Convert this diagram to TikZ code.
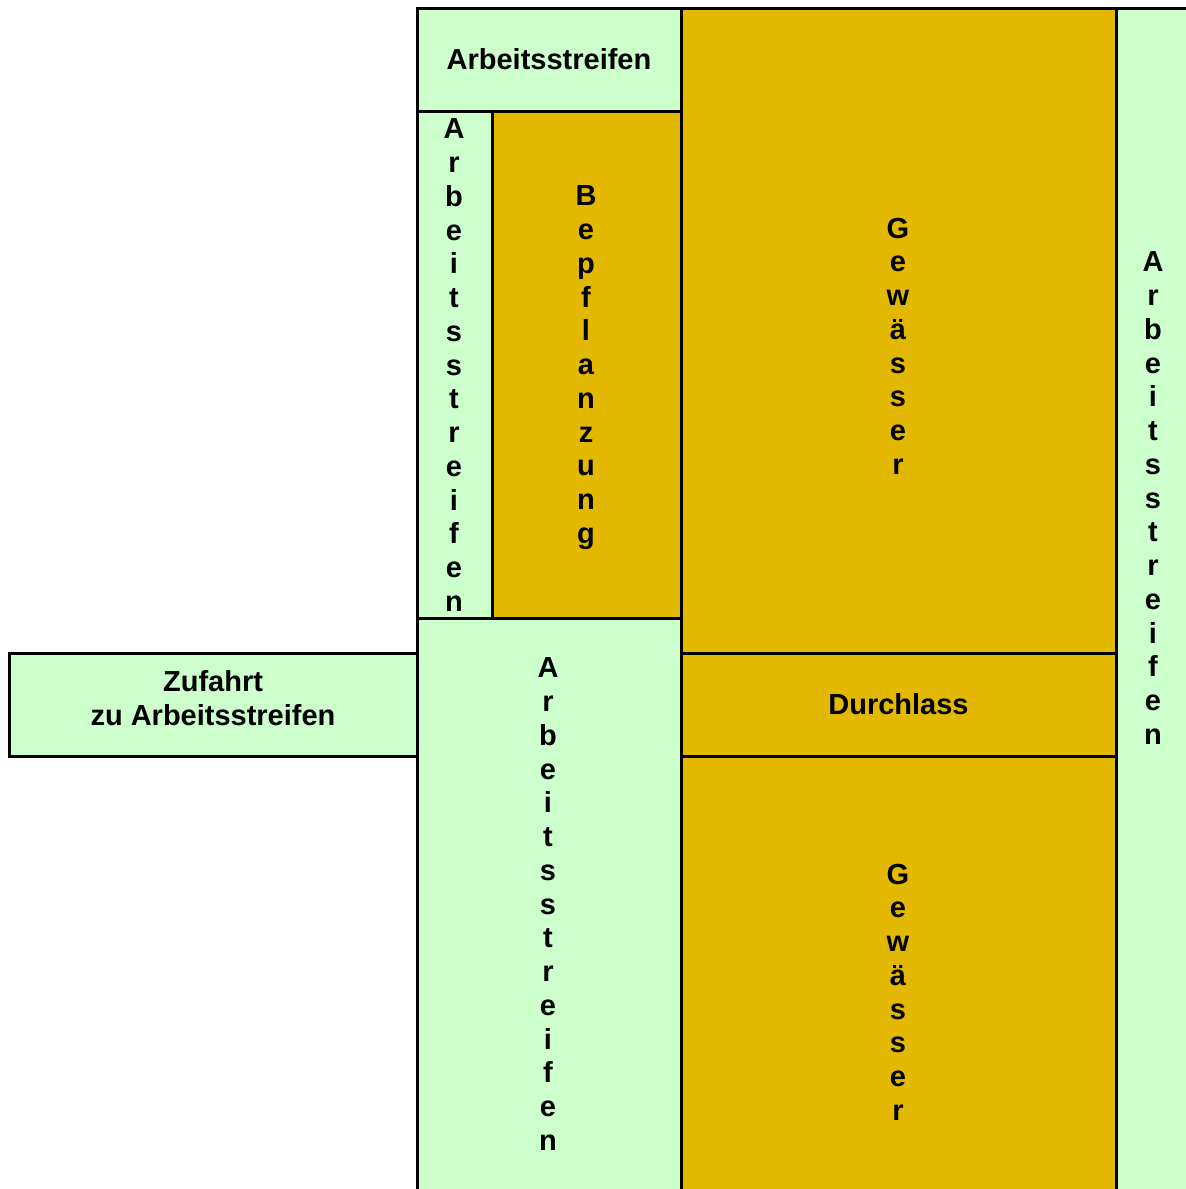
\documentclass[tikz,border=0pt]{standalone}
\usepackage{fontspec}
\setmainfont{Liberation Sans}
\definecolor{strip}{HTML}{CCFFCC}
\definecolor{water}{HTML}{E3B800}
\begin{document}
\begin{tikzpicture}[x=1pt,y=-1pt,
  area/.style={draw=black, line width=3pt, inner sep=0pt, outer sep=0pt, anchor=north west,
    font=\bfseries\fontsize{29}{34}\selectfont, align=center},
  greenbox/.style={area, fill=strip},
  goldbox/.style={area, fill=water},
  vtext/.style={inner sep=0pt, anchor=north, align=center,
    font=\bfseries\fontsize{29}{33.75}\selectfont}]
\clip (0,0) rectangle (1186,1189);
\fill[white] (0,0) rectangle (1186,1189);
% areas
\node[goldbox, minimum width=435pt, minimum height=645pt] (gw1) at (681,8) {};
\node[goldbox, minimum width=435pt, minimum height=103pt] (dl) at (681,653) {Durchlass};
\node[goldbox, minimum width=435pt, minimum height=460pt] (gw2) at (681,756) {};
\node[greenbox, minimum width=90pt, minimum height=1200pt] (ar) at (1116,8) {};
\node[greenbox, minimum width=264pt, minimum height=103pt] (at) at (417,8) {Arbeitsstreifen};
\node[greenbox, minimum width=75pt, minimum height=507pt] (al) at (417,111) {};
\node[goldbox, minimum width=189pt, minimum height=507pt] (bp) at (492,111) {};
\node[greenbox, minimum width=264pt, minimum height=600pt] (ab) at (417,618) {};
\node[greenbox, minimum width=408pt, minimum height=103pt] (zf) at (9,653) {};
\node[vtext, anchor=center, font=\bfseries\fontsize{29}{34}\selectfont] (tzf) at (213,698) {Zufahrt\\zu Arbeitsstreifen};
% vertical labels
\node[vtext] (tal) at (454,118.6) {A\\r\\b\\e\\i\\t\\s\\s\\t\\r\\e\\i\\f\\e\\n};
\node[vtext] (tbp) at (586,185.6) {B\\e\\p\\f\\l\\a\\n\\z\\u\\n\\g};
\node[vtext] (tgw1) at (898,217.6) {G\\e\\w\\ä\\s\\s\\e\\r};
\node[vtext] (tar) at (1153,251.6) {A\\r\\b\\e\\i\\t\\s\\s\\t\\r\\e\\i\\f\\e\\n};
\node[vtext] (tab) at (548,657.6) {A\\r\\b\\e\\i\\t\\s\\s\\t\\r\\e\\i\\f\\e\\n};
\node[vtext] (tgw2) at (898,863.6) {G\\e\\w\\ä\\s\\s\\e\\r};
\end{tikzpicture}
\end{document}
